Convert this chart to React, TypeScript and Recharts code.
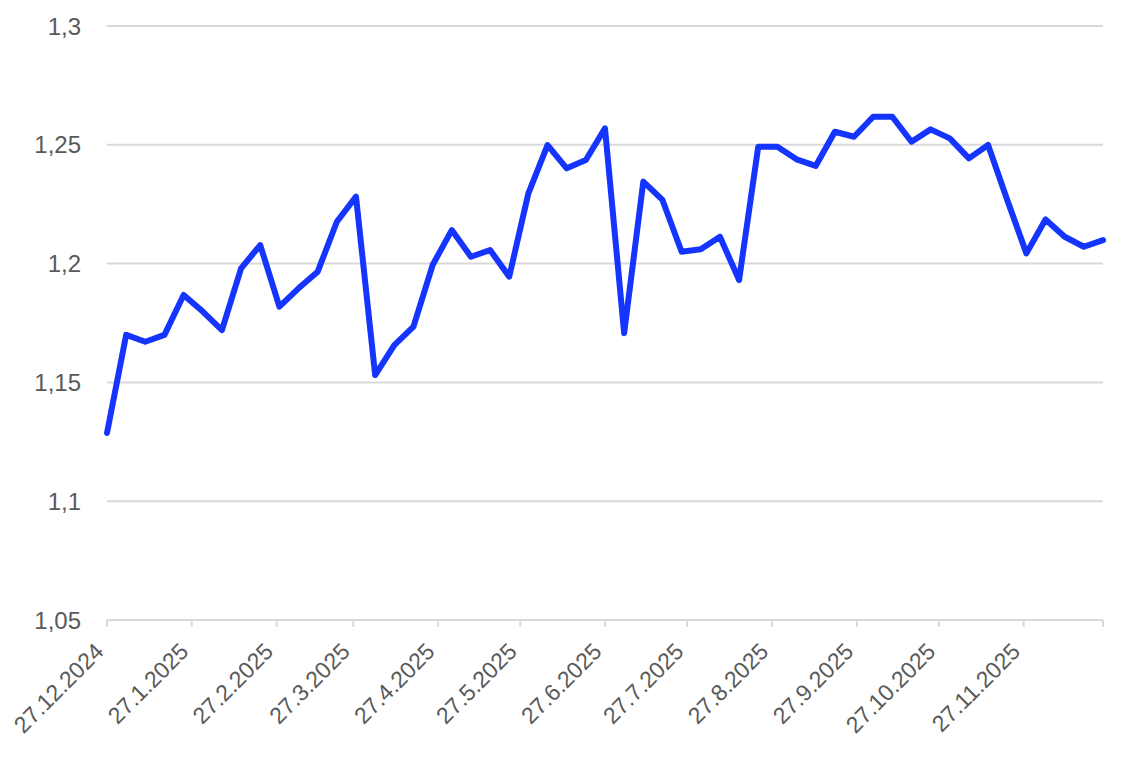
import { LineChart, Line, XAxis, YAxis, CartesianGrid } from "recharts";

// Weekly observation dates
const dates = [
	"27.12.2024", "3.1.2025", "10.1.2025", "17.1.2025", "24.1.2025", "31.1.2025",
	"7.2.2025", "14.2.2025", "21.2.2025", "28.2.2025",
	"7.3.2025", "14.3.2025", "21.3.2025", "28.3.2025",
	"4.4.2025", "11.4.2025", "18.4.2025", "25.4.2025",
	"2.5.2025", "9.5.2025", "16.5.2025", "23.5.2025", "30.5.2025",
	"6.6.2025", "13.6.2025", "20.6.2025", "27.6.2025",
	"4.7.2025", "11.7.2025", "18.7.2025", "25.7.2025",
	"1.8.2025", "8.8.2025", "15.8.2025", "22.8.2025", "29.8.2025",
	"5.9.2025", "12.9.2025", "19.9.2025", "26.9.2025",
	"3.10.2025", "10.10.2025", "17.10.2025", "24.10.2025", "31.10.2025",
	"7.11.2025", "14.11.2025", "21.11.2025", "28.11.2025",
	"5.12.2025", "12.12.2025", "19.12.2025", "26.12.2025",
];

const values = [
	1.1287, 1.17, 1.1671, 1.17, 1.1868, 1.1798, 1.172, 1.198, 1.2078, 1.1819,
	1.1896, 1.1966, 1.2176, 1.2282, 1.1531, 1.1657, 1.1735, 1.1994, 1.2141, 1.2029,
	1.2057, 1.1945, 1.2296, 1.2499, 1.2401, 1.2436, 1.2569, 1.1707, 1.2345, 1.2268,
	1.205, 1.206, 1.2113, 1.1931, 1.2492, 1.2492, 1.2439, 1.2411, 1.2555, 1.2534,
	1.2618, 1.2618, 1.2513, 1.2565, 1.2527, 1.2443, 1.2499, 1.2268, 1.2043, 1.2186,
	1.2113, 1.2071, 1.2099,
];

const monthLabels = [
	"27.12.2024", "27.1.2025", "27.2.2025", "27.3.2025", "27.4.2025", "27.5.2025",
	"27.6.2025", "27.7.2025", "27.8.2025", "27.9.2025", "27.10.2025", "27.11.2025",
];

const yTicks = [1.05, 1.1, 1.15, 1.2, 1.25, 1.3];

const toDay = (s: string) => {
	const [d, m, y] = s.split(".").map(Number);
	return Date.UTC(y, m - 1, d) / 86400000;
};

const base = toDay(dates[0]);
const lastDay = toDay(dates[dates.length - 1]) - base;

const data = dates.map((d, i) => ({ day: toDay(d) - base, value: values[i] }));

const labelByDay: Record<number, string> = {};
monthLabels.forEach((l) => {
	labelByDay[toDay(l) - base] = l;
});
const xTicks = [...monthLabels.map((l) => toDay(l) - base), lastDay];

const FONT = "'Liberation Sans', Arial, sans-serif";
const TEXT = "#595959";
const GRID = "#d9d9d9";

const DateTick = (props: any) => {
	const { x, y, payload } = props;
	const label = labelByDay[payload.value] ?? "";
	if (!label) return null;
	return (
		<g transform={`translate(${x - 2},${y + 24}) rotate(-45)`}>
			<text x={0} y={0} textAnchor="end" fill={TEXT} fontSize={23} fontFamily={FONT}>
				{label}
			</text>
		</g>
	);
};

const App = () => {
	return (
		<div style={{ fontFamily: FONT }}>
			<LineChart
				width={1110}
				height={754}
				data={data}
				margin={{ top: 18, right: 15, left: 0, bottom: 0 }}
			>
				<CartesianGrid vertical={false} stroke={GRID} strokeWidth={2} />
				<XAxis
					dataKey="day"
					type="number"
					domain={[0, lastDay]}
					ticks={xTicks}
					interval={0}
					height={142}
					tickSize={7}
					axisLine={{ stroke: GRID, strokeWidth: 2 }}
					tickLine={{ stroke: GRID, strokeWidth: 2 }}
					tick={<DateTick />}
				/>
				<YAxis
					type="number"
					domain={[1.05, 1.3]}
					ticks={yTicks}
					interval={0}
					width={99}
					axisLine={false}
					tickLine={false}
					tickSize={0}
					tickMargin={26}
					tickFormatter={(v: number) => String(v).replace(".", ",")}
					tick={{ fill: TEXT, fontSize: 24, fontFamily: FONT }}
				/>
				<Line
					type="linear"
					dataKey="value"
					stroke="#1535ff"
					strokeWidth={6}
					strokeLinejoin="round"
					strokeLinecap="round"
					dot={false}
					isAnimationActive={false}
				/>
			</LineChart>
		</div>
	);
};

export default App;
